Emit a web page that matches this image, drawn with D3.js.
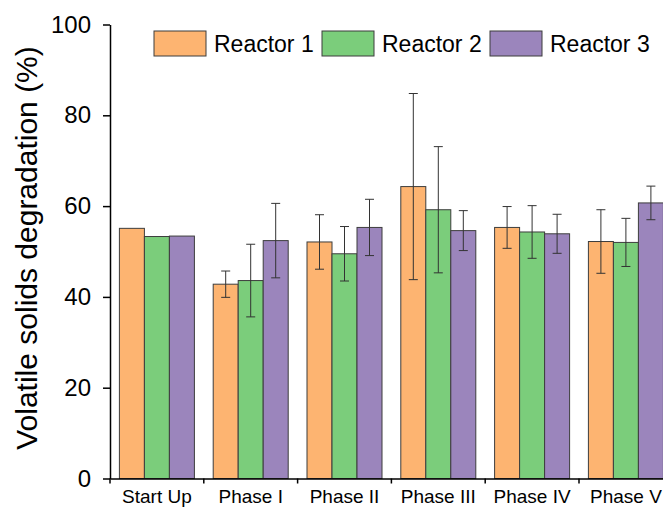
<!DOCTYPE html>
<html>
<head>
<meta charset="utf-8">
<script src="https://cdn.jsdelivr.net/npm/d3@7"></script>
<style>
  html, body { margin: 0; padding: 0; background: #fff; }
  svg { display: block; font-family: "Liberation Sans", Arial, sans-serif; }
</style>
</head>
<body>
<svg id="chart" width="663" height="507"></svg>
<script>
// Phases of operation
const categories = ["Start Up", "Phase I", "Phase II", "Phase III", "Phase IV", "Phase V"];
const seriesNames = ["Reactor 1", "Reactor 2", "Reactor 3"];
const seriesColors = ["#FDB471", "#7BCD7B", "#9B85BC"];

// Mean volatile solids degradation (%)
const reactor1 = [55.1, 42.8, 52.1, 64.3, 55.3, 52.2];
const reactor2 = [53.3, 43.6, 49.5, 59.2, 54.3, 52.0];
const reactor3 = [53.4, 52.4, 55.3, 54.6, 53.9, 60.7];

// Standard deviations (no error bar for start up)
const reactor1Err = [0, 2.9, 6.0, 20.5, 4.6, 7.0];
const reactor2Err = [0, 8.0, 6.0, 13.9, 5.8, 5.3];
const reactor3Err = [0, 8.2, 6.2, 4.4, 4.3, 3.7];

const yTicks = [0, 20, 40, 60, 80, 100];

const seriesValues = [reactor1, reactor2, reactor3];
const seriesErrors = [reactor1Err, reactor2Err, reactor3Err];

const svg = d3.select("#chart");

const x = d3.scaleBand().domain(categories).range([110, 672.8]).padding(0);
const xs = d3.scaleBand().domain(seriesNames).range([9.4, 84.4]).padding(0);
const y = d3.scaleLinear().domain([0, 100]).range([478.5, 24.5]);

const rows = [];
categories.forEach((c, i) => {
  seriesNames.forEach((s, j) => {
    rows.push({ cat: c, ser: s, j, value: seriesValues[j][i], err: seriesErrors[j][i] });
  });
});

// Bars
const bars = svg.append("g");
bars.selectAll("rect").data(rows).join("rect")
  .attr("x", d => x(d.cat) + xs(d.ser))
  .attr("y", d => y(d.value))
  .attr("width", xs.bandwidth())
  .attr("height", d => y(0) - y(d.value))
  .attr("fill", d => seriesColors[d.j])
  .attr("stroke", "#3d3d3d")
  .attr("stroke-width", 1);

// Error bars
const eb = svg.append("g").attr("stroke", "#333").attr("stroke-width", 1).attr("fill", "none");
const withErr = rows.filter(d => d.err > 0);
const cx = d => x(d.cat) + xs(d.ser) + xs.bandwidth() / 2;
eb.selectAll("line.v").data(withErr).join("line").attr("class", "v")
  .attr("x1", cx).attr("x2", cx)
  .attr("y1", d => y(d.value + d.err)).attr("y2", d => y(d.value - d.err));
eb.selectAll("line.top").data(withErr).join("line").attr("class", "top")
  .attr("x1", d => cx(d) - 4.5).attr("x2", d => cx(d) + 4.5)
  .attr("y1", d => y(d.value + d.err)).attr("y2", d => y(d.value + d.err));
eb.selectAll("line.bot").data(withErr).join("line").attr("class", "bot")
  .attr("x1", d => cx(d) - 4.5).attr("x2", d => cx(d) + 4.5)
  .attr("y1", d => y(d.value - d.err)).attr("y2", d => y(d.value - d.err));

// X axis: labels centred under groups, ticks at group boundaries
const xAxisG = svg.append("g").attr("transform", `translate(0,${y(0)})`)
  .call(d3.axisBottom(x).tickSize(0).tickSizeOuter(0));
xAxisG.select(".domain").attr("stroke", "#000").attr("stroke-width", 1.5);
xAxisG.selectAll("text")
  .attr("y", 24).attr("dy", 0)
  .attr("font-size", 19).attr("fill", "#000")
  .attr("font-family", "Liberation Sans, Arial, sans-serif");
xAxisG.selectAll("line.bound").data(categories).join("line").attr("class", "bound")
  .attr("x1", d => x(d)).attr("x2", d => x(d))
  .attr("y1", 0).attr("y2", 5)
  .attr("stroke", "#000").attr("stroke-width", 1.5);

// Y axis
const yAxisG = svg.append("g").attr("transform", `translate(110,0)`)
  .call(d3.axisLeft(y).tickValues(yTicks).tickSize(7).tickSizeOuter(0).tickPadding(12));
yAxisG.select(".domain").attr("stroke", "#000").attr("stroke-width", 1.5);
yAxisG.selectAll(".tick line").attr("stroke", "#000").attr("stroke-width", 1.5);
yAxisG.selectAll("text")
  .attr("font-size", 24).attr("fill", "#000")
  .attr("font-family", "Liberation Sans, Arial, sans-serif");

// Y axis title
svg.append("text")
  .attr("transform", `translate(37,248) rotate(-90)`)
  .attr("text-anchor", "middle")
  .attr("font-size", 30)
  .attr("fill", "#000")
  .text("Volatile solids degradation (%)");

// Legend
const legend = svg.append("g");
const lg = legend.selectAll("g").data(seriesNames).join("g")
  .attr("transform", (d, i) => `translate(${154 + i * 168},31)`);
lg.append("rect")
  .attr("width", 52).attr("height", 25)
  .attr("fill", (d, i) => seriesColors[i])
  .attr("stroke", "#3d3d3d").attr("stroke-width", 1);
lg.append("text")
  .attr("x", 60).attr("y", 20.5)
  .attr("font-size", 23).attr("fill", "#000")
  .text(d => d);
</script>
</body>
</html>
